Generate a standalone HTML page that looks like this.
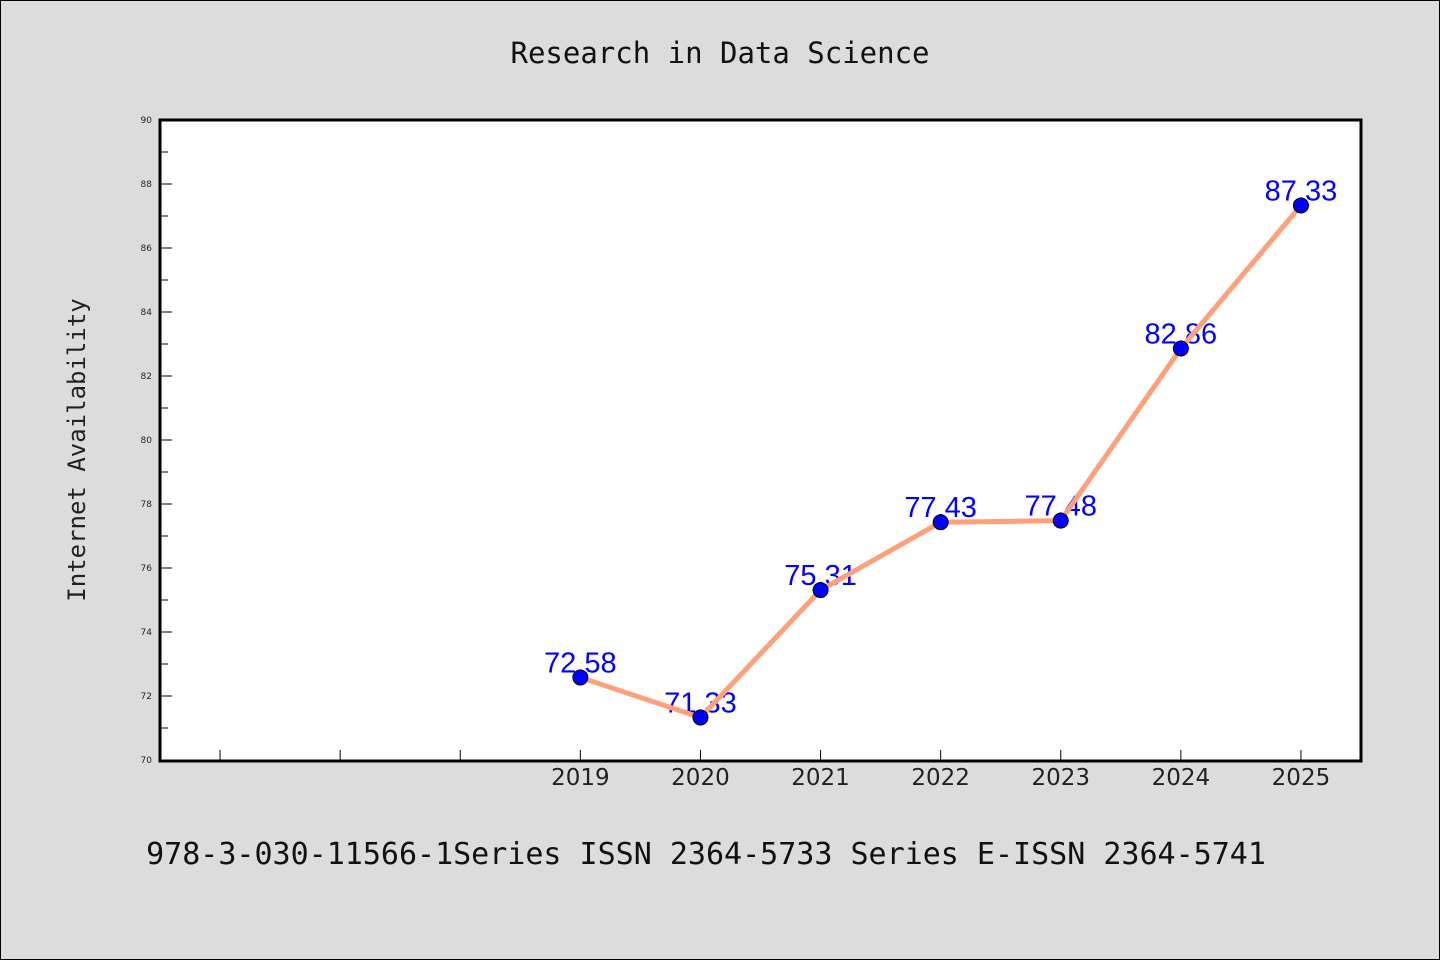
<!DOCTYPE html>
<html><head><meta charset="utf-8"><style>
html,body{margin:0;padding:0;background:#dcdcdc;}
svg{display:block;}
</style></head><body>
<svg width="1440" height="960" xmlns="http://www.w3.org/2000/svg">
<rect x="0.5" y="0.5" width="1439" height="959" fill="#dcdcdc" stroke="#000" stroke-width="1"/>
<text x="720" y="63" text-anchor="middle" font-family="'DejaVu Sans Mono','WenQuanYi Zen Hei',monospace" font-size="29" fill="#111">Research in Data Science</text>
<rect x="160" y="120" width="1201" height="641" fill="#fff"/>
<g id="axes"></g>
<g id="marks"></g>
<rect x="160" y="120" width="1201" height="641" fill="none" stroke="#000" stroke-width="3"/>
<text transform="translate(85,450) rotate(-90)" text-anchor="middle" font-family="'DejaVu Sans Mono','WenQuanYi Zen Hei',monospace" font-size="24" fill="#222">Internet Availability</text>
<text x="706" y="864" text-anchor="middle" font-family="'DejaVu Sans Mono','WenQuanYi Zen Hei',monospace" font-size="30" fill="#111">978-3-030-11566-1Series ISSN 2364-5733 Series E-ISSN 2364-5741</text>
</svg>
<script>
const years = [2019, 2020, 2021, 2022, 2023, 2024, 2025];
const values = [72.58, 71.33, 75.31, 77.43, 77.48, 82.86, 87.33];
const yTicks = [70, 72, 74, 76, 78, 80, 82, 84, 86, 88, 90];
const yMin = 70, yMax = 90, xMin = 2015.5, xMax = 2025.5;
const L = 160, R = 1361, T = 120, B = 760;
const NS = 'http://www.w3.org/2000/svg';
const xs = v => L + (v - xMin) / (xMax - xMin) * (R - L);
const ys = v => B - (v - yMin) / (yMax - yMin) * (B - T);
function mk(tag, attrs, parent) { const e = document.createElementNS(NS, tag); for (const k in attrs) e.setAttribute(k, attrs[k]); parent.appendChild(e); return e; }
const axes = document.getElementById('axes');
const marks = document.getElementById('marks');
// y ticks
for (let v = yMin; v <= yMax; v += 1) {
  const major = v % 2 === 0;
  const t = mk('line', {x1: L, x2: L + (major ? 12 : 8), y1: ys(v), y2: ys(v), stroke: '#000', 'stroke-width': 1}, axes);
  
  
}
yTicks.forEach(v => {
  const t = mk('text', {x: L - 8, y: ys(v) + 3, 'text-anchor': 'end', 'font-family': "'DejaVu Sans',sans-serif", 'font-size': 9, fill: '#222'}, axes);
  t.textContent = v;
  
  
});
// x ticks
for (let yr = 2016; yr <= 2025; yr++) {
  const t = mk('line', {x1: xs(yr), x2: xs(yr), y1: B, y2: B - 10, stroke: '#000', 'stroke-width': 1}, axes);
  
  
}
years.forEach(yr => {
  const t = mk('text', {x: xs(yr), y: 785, 'text-anchor': 'middle', 'font-family': "'DejaVu Sans',sans-serif", 'font-size': 23, fill: '#222'}, axes);
  t.textContent = yr;
  
  
});
// value labels
years.forEach((yr, i) => {
  const t = mk('text', {x: xs(yr), y: ys(values[i]) - 5, 'text-anchor': 'middle', 'font-family': "'Liberation Sans',sans-serif", 'font-size': 29, fill: '#0000ff'}, marks);
  t.textContent = values[i].toFixed(2);
  
  
});
// line
const pl = mk('polyline', {points: years.map((yr, i) => xs(yr) + ',' + ys(values[i])).join(' '), fill: 'none', stroke: '#ffa07a', 'stroke-width': 5}, marks);


years.forEach((yr, i) => {
  const c = mk('circle', {cx: xs(yr), cy: ys(values[i]), r: 7.5, fill: '#0000ff', stroke: '#000', 'stroke-width': 1}, marks);
  
  
});
</script>
</body></html>
